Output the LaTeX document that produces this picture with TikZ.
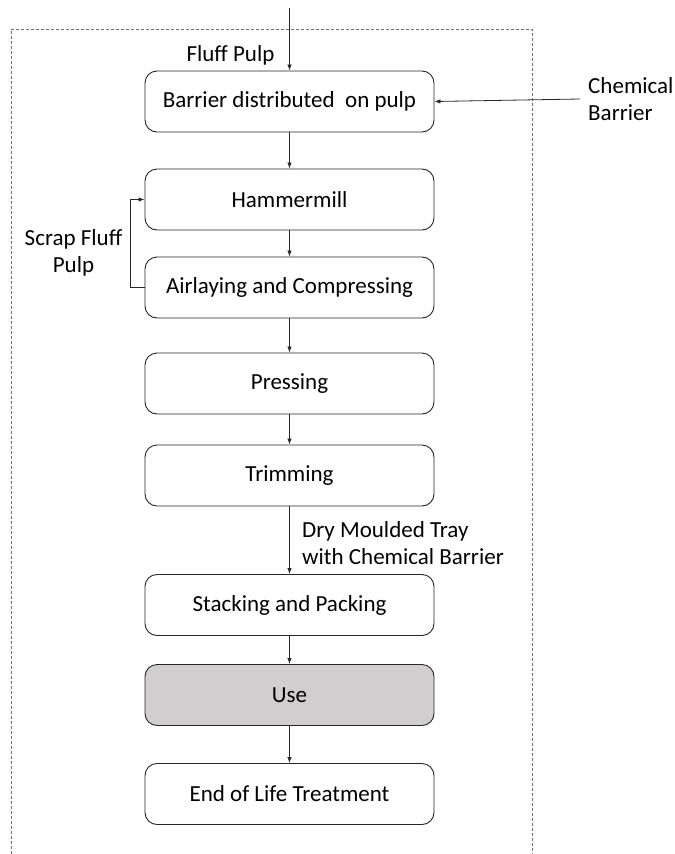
\documentclass[tikz,border=0pt]{standalone}
\usepackage{fontspec}
\setmainfont{Carlito}
\usetikzlibrary{arrows.meta}
\definecolor{usegray}{HTML}{D0CECE}
\definecolor{framegray}{HTML}{6E6E6E}
\begin{document}
\begin{tikzpicture}[x=1bp,y=-1bp,
  every node/.style={font=\fontsize{23.1}{27}\selectfont, text=black},
  stepbox/.style={draw=black!85, line width=0.9bp, rounded corners=12bp,
    minimum width=289bp, minimum height=61bp, inner sep=0pt},
  flow/.style={-{Latex[length=6bp,width=4.5bp]}, line width=0.8bp, draw=black!85},
  lbl/.style={inner sep=0pt},
  frame/.style={draw=framegray, line width=0.7bp, dash pattern=on 3bp off 2bp}]

\useasboundingbox (0,0) rectangle (675,854);

% system boundary (open at the bottom)
\draw[frame] (11,854) -- (11,29) -- (532,29) -- (532,854);

% process steps
\node[stepbox] (barrier) at (289.5,101.5) {Barrier distributed~ on pulp};
\node[stepbox] (hammer)  at (289.5,199.5) {Hammermill};
\node[stepbox] (airlay)  at (289.5,287.5) {Airlaying and Compressing};
\node[stepbox] (press)   at (289.5,383.5) {Pressing};
\node[stepbox] (trim)    at (289.5,475.5) {Trimming};
\node[stepbox] (stack)   at (289.5,605)   {Stacking and Packing};
\node[stepbox, fill=usegray] (use) at (289.5,695) {Use};
\node[stepbox] (eol)     at (289.5,794)   {End of Life Treatment};

% inputs
\coordinate (pulpin) at (289.5,8);
\coordinate (chemin) at (580,99);
\node[lbl] (pulplbl) at (230.5,55) {Fluff Pulp};
\node[lbl, anchor=west, align=left] (chemlbl) at (588,99) {Chemical\\Barrier};

% main flow
\draw[flow] (pulpin) -- (barrier.north);
\draw[flow] (chemin) -- (barrier.east);
\draw[flow] (barrier) -- (hammer);
\draw[flow] (hammer) -- (airlay);
\draw[flow] (airlay) -- (press);
\draw[flow] (press) -- (trim);
\draw[flow] (trim) -- (stack);
\draw[flow] (stack) -- (use);
\draw[flow] (use) -- (eol);

% scrap recycle loop
\draw[flow] (airlay.west) -- ++(-14,0) |- (hammer.west);
\node[lbl, align=center] (scraplbl) at (73.5,253) {Scrap Fluff\\Pulp};

% intermediate product
\node[lbl, anchor=west, align=left] (traylbl) at (302,543) {Dry Moulded Tray\\with Chemical Barrier};

\end{tikzpicture}
\end{document}
